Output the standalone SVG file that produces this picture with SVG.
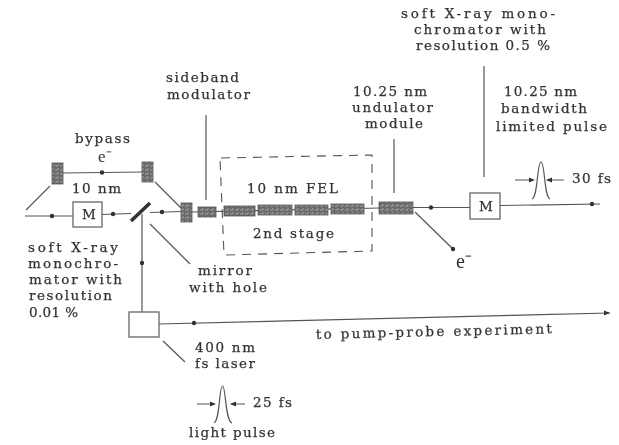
<svg xmlns="http://www.w3.org/2000/svg" width="619" height="445" viewBox="0 0 619 445">
<defs>
<pattern id="h" width="5" height="4" patternUnits="userSpaceOnUse"><rect width="5" height="4" fill="#6a6a6a"/><path d="M0 2H3M3 0V2" stroke="#bbb" stroke-width=".7"/></pattern>
<path id="ar" d="M0 0L-6 -2.500V2.500Z" fill="#333"/>
<filter id="soft" x="0" y="0" width="100%" height="100%"><feGaussianBlur stdDeviation="0.45"/></filter>
</defs>
<style>
text{font-family:"DejaVu Serif","Liberation Serif",serif;font-size:13.5px;fill:#333;stroke:#333;stroke-width:.25;font-weight:normal}
.e{font-family:"Liberation Serif",serif;stroke-width:0}
.l{fill:none;stroke:#555;stroke-width:1.2}
.box{fill:#fff;stroke:#666;stroke-width:1.3}
.u{fill:url(#h);stroke:#555;stroke-width:.8}
.d{fill:#333}
</style>
<rect width="619" height="445" fill="#fff"/>
<g filter="url(#soft)">
<g id="connectors">
<path class="l" d="M25 216H73M102 214.500L131 213.500M150 212.500L181 211.500"/>
<path class="l" d="M63 173L142 172M155 182L181 208M50 186L26 210"/>
<path class="l" d="M192 212L380 208M413 207.500H470M500 205.500L600 204"/>
<path class="l" d="M142 214V312"/>
<path class="l" d="M159 324L610 313"/>
<path class="l" d="M206 115V200M394 139V193M484 66V177M415 212L453 249"/>
<path class="l" d="M163 341L185 362M150 224L190 264"/>
<path d="M131 221L150 203" fill="none" stroke="#333" stroke-width="3.500"/>
<path d="M221 158L372 155V251L224 255L220 158" fill="none" stroke="#555" stroke-width="1.100" stroke-dasharray="9 7"/>
<circle class="d" cx="52" cy="216" r="2.200"/><circle class="d" cx="102" cy="172.500" r="2.200"/><circle class="d" cx="113" cy="214" r="2.200"/><circle class="d" cx="162" cy="212" r="2.200"/>
<circle class="d" cx="142" cy="263" r="2.200"/><circle class="d" cx="431" cy="207.500" r="2.200"/><circle class="d" cx="592" cy="204" r="2.200"/><circle class="d" cx="453" cy="249" r="2.200"/><circle class="d" cx="194" cy="323" r="2.200"/>
<use href="#ar" transform="translate(610 313)"/>
<path class="l" d="M532 199C538 197 537 162 541 162C545 162 544 197 550 199"/>
<path class="l" d="M515 180H533M547 180H564"/>
<use href="#ar" x="535" y="180"/><use href="#ar" transform="translate(546 180) rotate(180)"/>
<path class="l" d="M214 423C220 421 219 386 222.500 386C226 386 225 421 232 423"/>
<path class="l" d="M197 404H214M231 404H245"/>
<use href="#ar" x="216" y="404"/><use href="#ar" transform="translate(230 404) rotate(180)"/>
</g>
<g id="bypass-dipole-1"><rect class="u" x="52" y="163" width="11" height="21"/></g>
<g id="bypass-dipole-2"><rect class="u" x="142" y="162" width="11" height="20"/></g>
<g id="mono-left"><rect class="box" x="73" y="202" width="29" height="25"/><text x="82" y="219">M</text></g>
<g id="dipole-3"><rect class="u" x="181" y="203" width="11" height="19"/></g>
<g id="modulator"><rect class="u" x="198" y="207" width="18" height="10"/></g>
<g id="fel-1"><rect class="u" x="224" y="206" width="31" height="10"/></g>
<g id="fel-2"><rect class="u" x="258" y="205" width="34" height="10"/></g>
<g id="fel-3"><rect class="u" x="295" y="205" width="33" height="10"/></g>
<g id="fel-4"><rect class="u" x="331" y="204" width="33" height="10"/></g>
<g id="undulator"><rect class="u" x="379" y="202" width="34" height="12"/></g>
<g id="mono-right"><rect class="box" x="470" y="193" width="30" height="26"/><text x="479" y="211">M</text></g>
<g id="laser"><rect class="box" x="129" y="312" width="30" height="25"/></g>
<g id="labels">
<text x="401" y="18" textLength="154">soft X-ray mono-</text><text x="414" y="34" textLength="132">chromator with</text><text x="416" y="50" textLength="134">resolution 0.5 %</text>
<text x="166" y="82" textLength="73">sideband</text><text x="167" y="99" textLength="83">modulator</text>
<text x="353" y="96" textLength="74">10.25 nm</text><text x="352" y="112" textLength="81">undulator</text><text x="365" y="128" textLength="58">module</text>
<text x="504" y="96" textLength="73">10.25 nm</text><text x="501" y="113" textLength="86">bandwidth</text><text x="496" y="131" textLength="111">limited pulse</text>
<text x="75" y="143" textLength="55">bypass</text><text class="e" x="98" y="162" style="font-size:17px">e⁻</text>
<text x="72" y="193" textLength="49">10 nm</text>
<text x="28" y="252" textLength="90">soft X-ray</text><text x="28" y="268" textLength="90">monochro-</text><text x="29" y="284" textLength="93">mator with</text><text x="29" y="300" textLength="83">resolution</text><text x="29" y="317" textLength="49">0.01 %</text>
<text x="247" y="193" textLength="91">10 nm FEL</text><text x="253" y="238" textLength="81">2nd stage</text>
<text x="198" y="275" textLength="54">mirror</text><text x="189" y="292" textLength="78">with hole</text>
<text class="e" x="456" y="268" style="font-size:20px">e⁻</text>
<text x="572" y="183" textLength="39">30 fs</text>
<text x="195" y="352" textLength="60">400 nm</text><text x="195" y="368" textLength="60">fs laser</text>
<text x="253" y="407" textLength="39">25 fs</text><text x="189" y="437" textLength="86">light pulse</text>
<text transform="translate(316 339) rotate(-1.400)" textLength="236">to pump-probe experiment</text>
</g>
</g>
</svg>
